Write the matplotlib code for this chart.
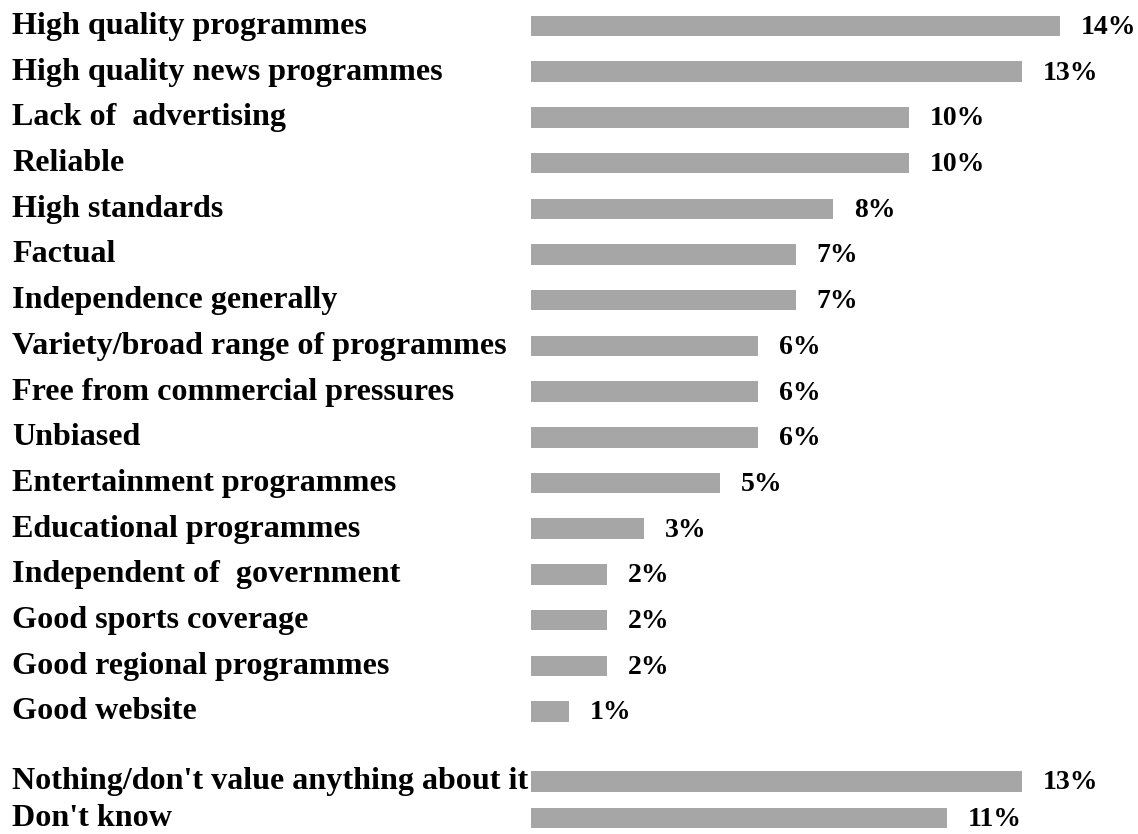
import matplotlib.pyplot as plt
from matplotlib import transforms

# Was an der BBC geschaetzt wird (Anteil in %)
kategorien = [
    "High quality programmes",
    "High quality news programmes",
    "Lack of  advertising",
    "Reliable",
    "High standards",
    "Factual",
    "Independence generally",
    "Variety/broad range of programmes",
    "Free from commercial pressures",
    "Unbiased",
    "Entertainment programmes",
    "Educational programmes",
    "Independent of  government",
    "Good sports coverage",
    "Good regional programmes",
    "Good website",
    "Nothing/don't value anything about it",
    "Don't know",
]
werte = [14, 13, 10, 10, 8, 7, 7, 6, 6, 6, 5, 3, 2, 2, 2, 1, 13, 11]
beschriftungen = [str(w) + "%" for w in werte]

# Zeilenpositionen: 16 Zeilen, dann eine Luecke vor den letzten beiden
zeilen = list(range(16)) + [16.53, 17.33]

breite_px, hoehe_px = 1138, 834
zeile_px = 45.7
prozent_px = 37.8
links_px = 531

fig = plt.figure(figsize=(breite_px / 100, hoehe_px / 100), dpi=100)
ax = fig.add_axes([links_px / breite_px, 0, 1 - links_px / breite_px, 1])
ax.set_xlim(0, (breite_px - links_px) / prozent_px)
ax.set_ylim((hoehe_px - 26) / zeile_px, -26 / zeile_px)
ax.axis("off")

schrift = dict(family="Liberation Serif", weight="bold", color="black")
basis = 8 / zeile_px  # Grundlinie etwas unter der Balkenmitte

ax.barh(zeilen, werte, height=0.45, color="#a6a6a6", edgecolor="none")

trans = transforms.blended_transform_factory(fig.transFigure, ax.transData)
for y, name in zip(zeilen, kategorien):
    ax.text(12 / breite_px, y + basis, name, transform=trans,
            ha="left", va="baseline", size=23.1, **schrift)

for y, w, txt in zip(zeilen, werte, beschriftungen):
    ax.annotate(txt, (w, y + basis), xytext=(15, 0), textcoords="offset points",
                ha="left", va="baseline", size=20, **schrift)

fig.savefig("out.png", dpi=100)
